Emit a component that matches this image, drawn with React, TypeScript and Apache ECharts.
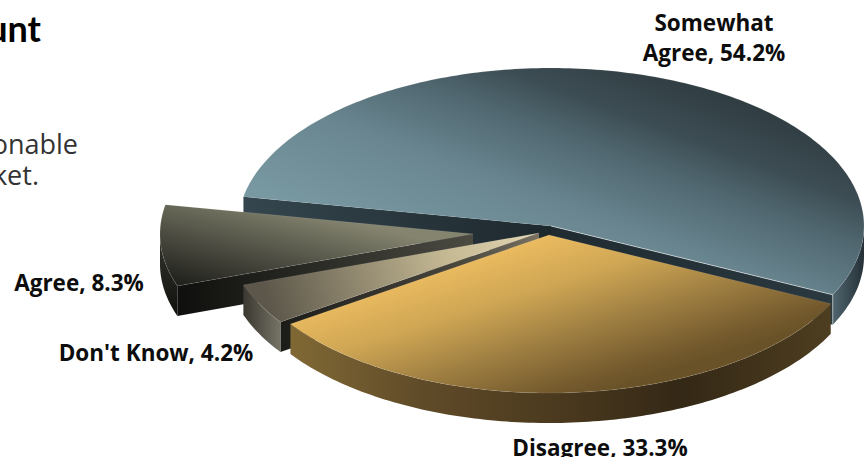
import React, { useEffect, useRef } from "react";
import * as echarts from "echarts";

// Survey answers, listed clockwise from the back-left edge of the pie.
const answers = ["Somewhat\nAgree", "Disagree", "Don't Know", "Agree"];
const shares = [54.2, 33.3, 4.2, 8.3];

// Back slices are painted first so the nearer ones overlap them.
const paintOrder = [0, 3, 2, 1];

const FONT = "Open Sans";
const RX = 313;
const RY = 158;
const DEPTH = 30;
const START_DEG = 190.7;

type Stops = [number, number, number, number, [number, string][]];
const lin = ([x, y, x2, y2, stops]: Stops) =>
  new echarts.graphic.LinearGradient(
    x, y, x2, y2,
    stops.map(([offset, color]) => ({ offset, color })),
    true
  );

// Exploded apex, shading and label placement for each slice.
const sliceStyles = [
  {
    apex: [551, 226],
    top: [250, 190, 342, -56, [[0, "#7898a2"], [0.35, "#6a8791"], [0.62, "#4f666f"], [0.77, "#3d4d54"], [1, "#2e3b3f"]]],
    rim: [863, 0, 833, 0, [[0, "#263238"], [1, "#50656f"]]],
    startWall: [242, 0, 551, 0, [[0, "#35464e"], [1, "#1d282d"]]],
    endWall: [551, 0, 833, 0, [[0, "#1f2b31"], [1, "#2a383f"]]],
    glow: true,
    label: [714, 37],
  },
  {
    apex: [549, 235],
    top: [420, 273, 471, 434, [[0, "#ecbc60"], [0.3, "#cfa654"], [0.6, "#a08042"], [0.9, "#745a2d"], [1, "#6a5228"]]],
    rim: [292, 0, 832, 0, [[0, "#806834"], [0.24, "#604b29"], [0.5, "#4a391e"], [0.72, "#342816"], [1, "#4e3e20"]]],
    startWall: null,
    endWall: null,
    label: [600, 447],
  },
  {
    apex: [539, 233],
    top: [539, 233, 270, 310, [[0, "#e3d6b2"], [0.35, "#c4b893"], [1, "#5c574a"]]],
    rim: [245, 0, 283, 0, [[0, "#3c3a32"], [1, "#7a776a"]]],
    startWall: [283, 0, 539, 0, [[0, "#1c1c19"], [0.7, "#4a473d"], [1, "#797262"]]],
    endWall: null,
    label: [156, 352],
  },
  {
    apex: [473, 234],
    top: [178, 287, 203, 185, [[0, "#1e1e1a"], [0.45, "#4a4a40"], [1, "#84846f"]]],
    rim: [165, 200, 175, 317, [[0, "#45453c"], [1, "#0f0f0d"]]],
    startWall: [178, 0, 473, 0, [[0, "#0f0f0d"], [1, "#4b4b42"]]],
    endWall: null,
    label: [79, 282],
  },
] as any[];

const total = shares.reduce((a, b) => a + b, 0);
const startAngles = shares.map(
  (_, i) => START_DEG + (shares.slice(0, i).reduce((a, b) => a + b, 0) / total) * 360
);

const rimPoint = (apex: number[], deg: number, drop = 0) => {
  const t = (deg * Math.PI) / 180;
  return [apex[0] + RX * Math.cos(t), apex[1] + RY * Math.sin(t) + drop];
};

const arcPoints = (apex: number[], from: number, to: number, drop = 0) => {
  const pts: number[][] = [];
  const steps = Math.max(4, Math.ceil(to - from));
  for (let i = 0; i <= steps; i++) {
    pts.push(rimPoint(apex, from + ((to - from) * i) / steps, drop));
  }
  return pts;
};

const wall = (a: number[], b: number[], fill: any) => ({
  type: "polygon",
  shape: { points: [a, b, [b[0], b[1] + DEPTH], [a[0], a[1] + DEPTH]] },
  style: { fill: lin(fill) },
});

function renderSlice(params: any, api: any) {
  const idx = paintOrder[params.dataIndex];
  const share = api.value(0);
  const s = sliceStyles[idx];
  const from = startAngles[idx];
  const to = from + (share / total) * 360;
  const children: any[] = [];

  // Cut faces run between the apex and the rim and hang below the top surface.
  if (s.startWall) children.push(wall(rimPoint(s.apex, from), s.apex, s.startWall));
  if (s.endWall) children.push(wall(s.apex, rimPoint(s.apex, to), s.endWall));

  // Only the front half of the ellipse (360 to 540 degrees here) shows a rim.
  const visibleFrom = Math.max(from, 360);
  const visibleTo = Math.min(to, 540);
  if (visibleTo > visibleFrom) {
    const upper = arcPoints(s.apex, visibleFrom, visibleTo);
    const lower = arcPoints(s.apex, visibleFrom, visibleTo, DEPTH).reverse();
    children.push({
      type: "polygon",
      shape: { points: [...upper, ...lower] },
      style: { fill: lin(s.rim) },
    });
  }

  const arc = arcPoints(s.apex, from, to);
  children.push({
    type: "polygon",
    shape: { points: [s.apex, ...arc] },
    style: { fill: lin(s.top), stroke: "rgba(255,255,255,0.18)", lineWidth: 0.5 },
  });

  // Bright catch-light along the near cut edge and down its corner.
  if (s.glow) {
    const corner = rimPoint(s.apex, to);
    children.push({
      type: "polyline",
      shape: { points: [s.apex, corner, [corner[0], corner[1] + DEPTH]] },
      style: { fill: "none", stroke: "rgba(255,255,255,0.6)", lineWidth: 0.8 },
    });
  }

  children.push({
    type: "text",
    x: s.label[0],
    y: s.label[1],
    style: {
      text: `${answers[idx]}, ${share.toFixed(1)}%`,
      fontFamily: FONT,
      fontWeight: "bold",
      fontSize: 22.5,
      lineHeight: 30,
      fill: "#0d0d0d",
      align: "center",
      verticalAlign: "middle",
    },
  });

  return { type: "group", children };
}

export default function App() {
  const ref = useRef<HTMLDivElement>(null);

  useEffect(() => {
    const chart = echarts.init(ref.current!, undefined, { renderer: "svg" });
    chart.setOption({
      animation: false,
      backgroundColor: "#ffffff",
      graphic: [
        {
          type: "text",
          x: 41,
          y: 28,
          style: {
            text: "unt",
            fontFamily: "Lato",
            fontWeight: "bold",
            fontSize: 36,
            fill: "#000000",
            align: "right",
            verticalAlign: "middle",
          },
        },
        {
          type: "text",
          x: 78,
          y: 143,
          style: {
            text: "onable",
            fontFamily: FONT,
            fontSize: 27,
            lineHeight: 28,
            fill: "#333333",
            align: "right",
            verticalAlign: "middle",
          },
        },
        {
          type: "text",
          x: 39,
          y: 174,
          style: {
            text: "ket.",
            fontFamily: FONT,
            fontSize: 27,
            lineHeight: 28,
            fill: "#333333",
            align: "right",
            verticalAlign: "middle",
          },
        },
      ],
      series: [
        {
          type: "custom",
          coordinateSystem: "none",
          silent: true,
          clip: false,
          renderItem: renderSlice,
          data: paintOrder.map((i) => [shares[i]]),
        },
      ],
    });
    return () => chart.dispose();
  }, []);

  return (
    <div
      ref={ref}
      style={{ position: "absolute", left: 0, top: 0, width: 864, height: 457 }}
    />
  );
}
